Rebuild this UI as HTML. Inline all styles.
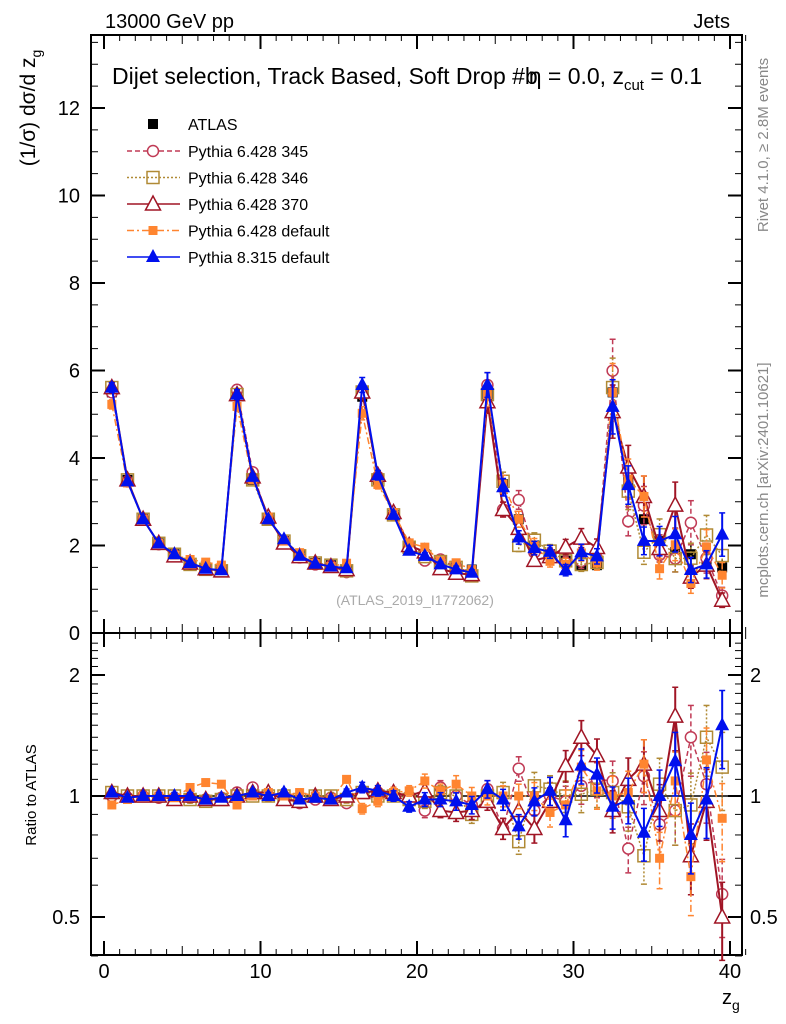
<!DOCTYPE html>
<html><head><meta charset="utf-8"><style>
html,body{margin:0;padding:0;background:#fff}
svg{display:block;font-family:"Liberation Sans",sans-serif}
</style></head><body>
<svg id="c" width="786" height="1024" viewBox="0 0 786 1024" xmlns="http://www.w3.org/2000/svg">
<text x="105" y="28" font-size="20">13000 GeV pp</text>
<text x="730" y="28" font-size="20" text-anchor="end">Jets</text>
<text x="112" y="84" font-size="23">Dijet selection, Track Based, Soft Drop #b<tspan dx="-9">η</tspan> = 0.0, z<tspan font-size="15" dy="6">cut</tspan><tspan dy="-6"> = 0.1</tspan></text>
<text transform="translate(768,145) rotate(-90)" font-size="15" fill="#888" text-anchor="middle">Rivet 4.1.0, ≥ 2.8M events</text>
<text transform="translate(768,480) rotate(-90)" font-size="15" fill="#888" text-anchor="middle">mcplots.cern.ch [arXiv:2401.10621]</text>
<text transform="translate(35,108) rotate(-90)" font-size="21" text-anchor="middle">(1/σ) dσ/d z<tspan font-size="14" dy="6">g</tspan></text>
<text transform="translate(36,795) rotate(-90)" font-size="15" text-anchor="middle">Ratio to ATLAS</text>
<text x="415" y="605" font-size="14" fill="#aaa" text-anchor="middle">(ATLAS_2019_I1772062)</text>
<text x="722" y="1004" font-size="20">z<tspan font-size="14" dy="6">g</tspan></text>
<g id="g"></g>
</svg>
<script>
const bins=[0.5,1.5,2.5,3.5,4.5,5.5,6.5,7.5,8.5,9.5,10.5,11.5,12.5,13.5,14.5,15.5,16.5,17.5,18.5,19.5,20.5,21.5,22.5,23.5,24.5,25.5,26.5,27.5,28.5,29.5,30.5,31.5,32.5,33.5,34.5,35.5,36.5,37.5,38.5,39.5];
const atlas=[5.5,3.5,2.6,2.05,1.8,1.6,1.5,1.45,5.45,3.5,2.6,2.1,1.8,1.6,1.55,1.45,5.4,3.5,2.7,2.0,1.8,1.6,1.5,1.45,5.45,3.4,2.6,2.0,1.8,1.65,1.55,1.55,5.5,3.45,2.6,2.1,1.85,1.8,1.6,1.5];
const r345=[1.0,0.99,1.0,0.99,0.99,0.99,0.98,0.99,1.02,1.05,1.0,1.0,0.96,0.98,0.99,0.96,1.02,1.02,1.0,1.0,0.92,1.05,1.0,0.95,1.04,0.83,1.17,0.92,1.0,0.97,1.06,1.1,1.09,0.74,1.12,0.85,0.92,1.4,1.07,0.57];
const r346=[1.02,1.0,1.0,1.0,1.0,0.98,0.97,0.98,1.0,1.0,1.0,1.0,0.98,1.0,1.0,0.98,1.02,1.0,1.0,0.98,0.97,1.02,1.0,0.9,1.0,1.02,0.77,1.06,1.04,1.0,1.01,1.04,1.02,0.94,0.71,1.07,0.92,0.95,1.4,1.18];
const r370=[1.02,1.0,1.0,1.0,0.98,1.0,0.98,0.98,1.0,1.02,1.02,0.98,0.97,1.0,0.98,1.0,1.02,1.03,1.02,1.0,1.03,0.92,0.91,0.92,0.97,0.83,0.92,0.83,0.97,1.19,1.4,1.26,0.92,1.1,1.2,0.92,1.58,0.71,0.97,0.5];
const rdef6=[0.95,0.98,1.0,1.0,0.99,1.05,1.08,1.07,0.95,1.0,1.02,1.0,1.02,1.0,0.98,1.1,0.93,0.97,1.02,1.03,1.09,1.03,1.07,1.0,1.0,1.0,1.0,1.0,0.91,0.95,1.18,1.03,1.0,1.02,1.2,0.7,1.09,0.63,1.23,0.88];
const r8=[1.02,0.99,1.0,1.0,1.0,1.0,0.98,0.99,1.0,1.02,1.0,1.02,0.98,0.99,0.98,1.02,1.05,1.03,1.0,0.94,0.98,0.98,0.97,0.95,1.04,0.98,0.84,0.97,1.03,0.87,1.19,1.13,0.94,0.98,0.81,1.0,1.22,0.8,0.98,1.5];
const relErr=[0.02,0.02,0.02,0.02,0.02,0.02,0.02,0.02,0.02,0.02,0.02,0.02,0.02,0.02,0.02,0.02,0.03,0.03,0.03,0.03,0.04,0.04,0.05,0.05,0.05,0.06,0.07,0.08,0.08,0.09,0.1,0.1,0.12,0.13,0.15,0.16,0.18,0.2,0.2,0.22];
const yTicks=[0,2,4,6,8,10,12];
const rTicks=[0.5,1,2];
const xTicks=[0,10,20,30,40];

const NS="http://www.w3.org/2000/svg",G=document.getElementById('g');
function el(t,a,p){const e=document.createElementNS(NS,t);for(const k in a)e.setAttribute(k,a[k]);(p||G).appendChild(e);return e;}
const X=v=>104+v*15.65, Y=v=>633-v*43.75, R=v=>796-Math.log2(v)*121;
const L=91,Rt=742,T=35,B1=633,B2=955;
let f1=el('rect',{x:L,y:T,width:Rt-L,height:B1-T,fill:'none',stroke:'#000','stroke-width':2});

let f2=el('rect',{x:L,y:B1,width:Rt-L,height:B2-B1,fill:'none',stroke:'#000','stroke-width':2});

for(let v=0;v<=41;v++){const big=v%10==0,mid=v%5==0;const len=big?14:(mid?9:6);
 [[T,1],[B1,-1],[B1,1],[B2,-1]].forEach(([y,s])=>el('line',{x1:X(v),x2:X(v),y1:y,y2:y+s*len,stroke:'#000','stroke-width':big?2:1}));}
xTicks.forEach(v=>{const t=el('text',{x:X(v),y:978,'font-size':20,'text-anchor':'middle'});t.textContent=v;
});
for(let v=0;v<=13.5;v+=0.5){const big=v%2==0;const len=big?14:7;
 el('line',{x1:L,x2:L+len,y1:Y(v),y2:Y(v),stroke:'#000','stroke-width':big?2:1});
 el('line',{x1:Rt,x2:Rt-len,y1:Y(v),y2:Y(v),stroke:'#000','stroke-width':big?2:1});}
yTicks.forEach(v=>{const t=el('text',{x:80,y:Y(v)+7,'font-size':20,'text-anchor':'end'});t.textContent=v;
});
for(let v=0.4;v<=2.5;v+=0.1){const vv=Math.round(v*10)/10;const big=rTicks.includes(vv);const len=big?14:7;
 el('line',{x1:L,x2:L+len,y1:R(vv),y2:R(vv),stroke:'#000','stroke-width':big?2:1});
 el('line',{x1:Rt,x2:Rt-len,y1:R(vv),y2:R(vv),stroke:'#000','stroke-width':big?2:1});}
rTicks.forEach(v=>{[[80,'end'],[750,'start']].forEach(([x,a])=>{const t=el('text',{x:x,y:R(v)+7,'font-size':20,'text-anchor':a});t.textContent=v;
});});
el('line',{x1:L,x2:Rt,y1:R(1),y2:R(1),stroke:'#000','stroke-width':1.5});

function marker(kind,x,y,col,g){
 if(kind=='sq')return el('rect',{x:x-5,y:y-5,width:10,height:10,fill:'#000'},g);
 if(kind=='circ')return el('circle',{cx:x,cy:y,r:5.5,fill:'#fff',stroke:col,'stroke-width':1.5},g);
 if(kind=='osq')return el('rect',{x:x-6,y:y-6,width:12,height:12,fill:'none',stroke:col,'stroke-width':1.5},g);
 if(kind=='otri')return el('path',{d:`M${x},${y-8}L${x+7.5},${y+6}L${x-7.5},${y+6}Z`,fill:'#fff',stroke:col,'stroke-width':1.5},g);
 if(kind=='fsq')return el('rect',{x:x-4.5,y:y-4.5,width:9,height:9,fill:col},g);
 if(kind=='ftri')return el('path',{d:`M${x},${y-8}L${x+7},${y+5}L${x-7},${y+5}Z`,fill:col},g);
}
const series=[
 {name:'pythia6-345',label:'Pythia 6.428 345',r:r345,col:'#c03a55',dash:'5,3',m:'circ'},
 {name:'pythia6-346',label:'Pythia 6.428 346',r:r346,col:'#b08a35',dash:'2,2',m:'osq'},
 {name:'pythia6-370',label:'Pythia 6.428 370',r:r370,col:'#a01525',dash:'',m:'otri'},
 {name:'pythia6-default',label:'Pythia 6.428 default',r:rdef6,col:'#ff8530',dash:'7,3,2,3',m:'fsq'},
 {name:'pythia8-default',label:'Pythia 8.315 default',r:r8,col:'#0010ee',dash:'',m:'ftri'}];
const ga=el('g',{});
bins.forEach((b,i)=>{el('line',{x1:X(b),x2:X(b),y1:Y(atlas[i]*(1+relErr[i]*0.6)),y2:Y(atlas[i]*(1-relErr[i]*0.6)),stroke:'#000','stroke-width':1.5},ga);
 const m=marker('sq',X(b),Y(atlas[i]),'#000',ga);});
series.forEach(s=>{
 const w=s.m=='ftri'||s.m=='otri'?2:1.5;
 ['main','ratio'].forEach(p=>{
  const g=el('g',{});
  const pts=bins.map((b,i)=>[X(b),p=='main'?Y(atlas[i]*s.r[i]):R(s.r[i])]);
  el('polyline',{points:pts.map(q=>q.join(',')).join(' '),fill:'none',stroke:s.col,'stroke-width':w,'stroke-dasharray':s.dash},g);
  bins.forEach((b,i)=>{const e=relErr[i];let y1,y2;
   if(p=='main'){y1=Y(atlas[i]*s.r[i]*(1+e));y2=Y(atlas[i]*s.r[i]*(1-e));}else{y1=R(s.r[i]*(1+e));y2=R(s.r[i]*(1-e));}
   el('line',{x1:X(b),x2:X(b),y1:y1,y2:y2,stroke:s.col,'stroke-width':w,'stroke-dasharray':s.dash},g);
   el('line',{x1:X(b)-3,x2:X(b)+3,y1:y1,y2:y1,stroke:s.col,'stroke-width':1.5},g);
   el('line',{x1:X(b)-3,x2:X(b)+3,y1:y2,y2:y2,stroke:s.col,'stroke-width':1.5},g);
   const m=marker(s.m,pts[i][0],pts[i][1],s.col,g);});
 });
});
const lg=el('g',{});
const e0=el('g',{},lg);
marker('sq',153,124,'#000',e0);const t0=el('text',{x:188,y:130,'font-size':16},e0);t0.textContent='ATLAS';
series.forEach((s,k)=>{const y=151+k*26.5;const e=el('g',{},lg);
 el('line',{x1:127,x2:180,y1:y,y2:y,stroke:s.col,'stroke-width':1.5,'stroke-dasharray':s.dash},e);
 marker(s.m,153,y,s.col,e);const t=el('text',{x:188,y:y+6,'font-size':16},e);t.textContent=s.label;});
</script>
</body></html>
